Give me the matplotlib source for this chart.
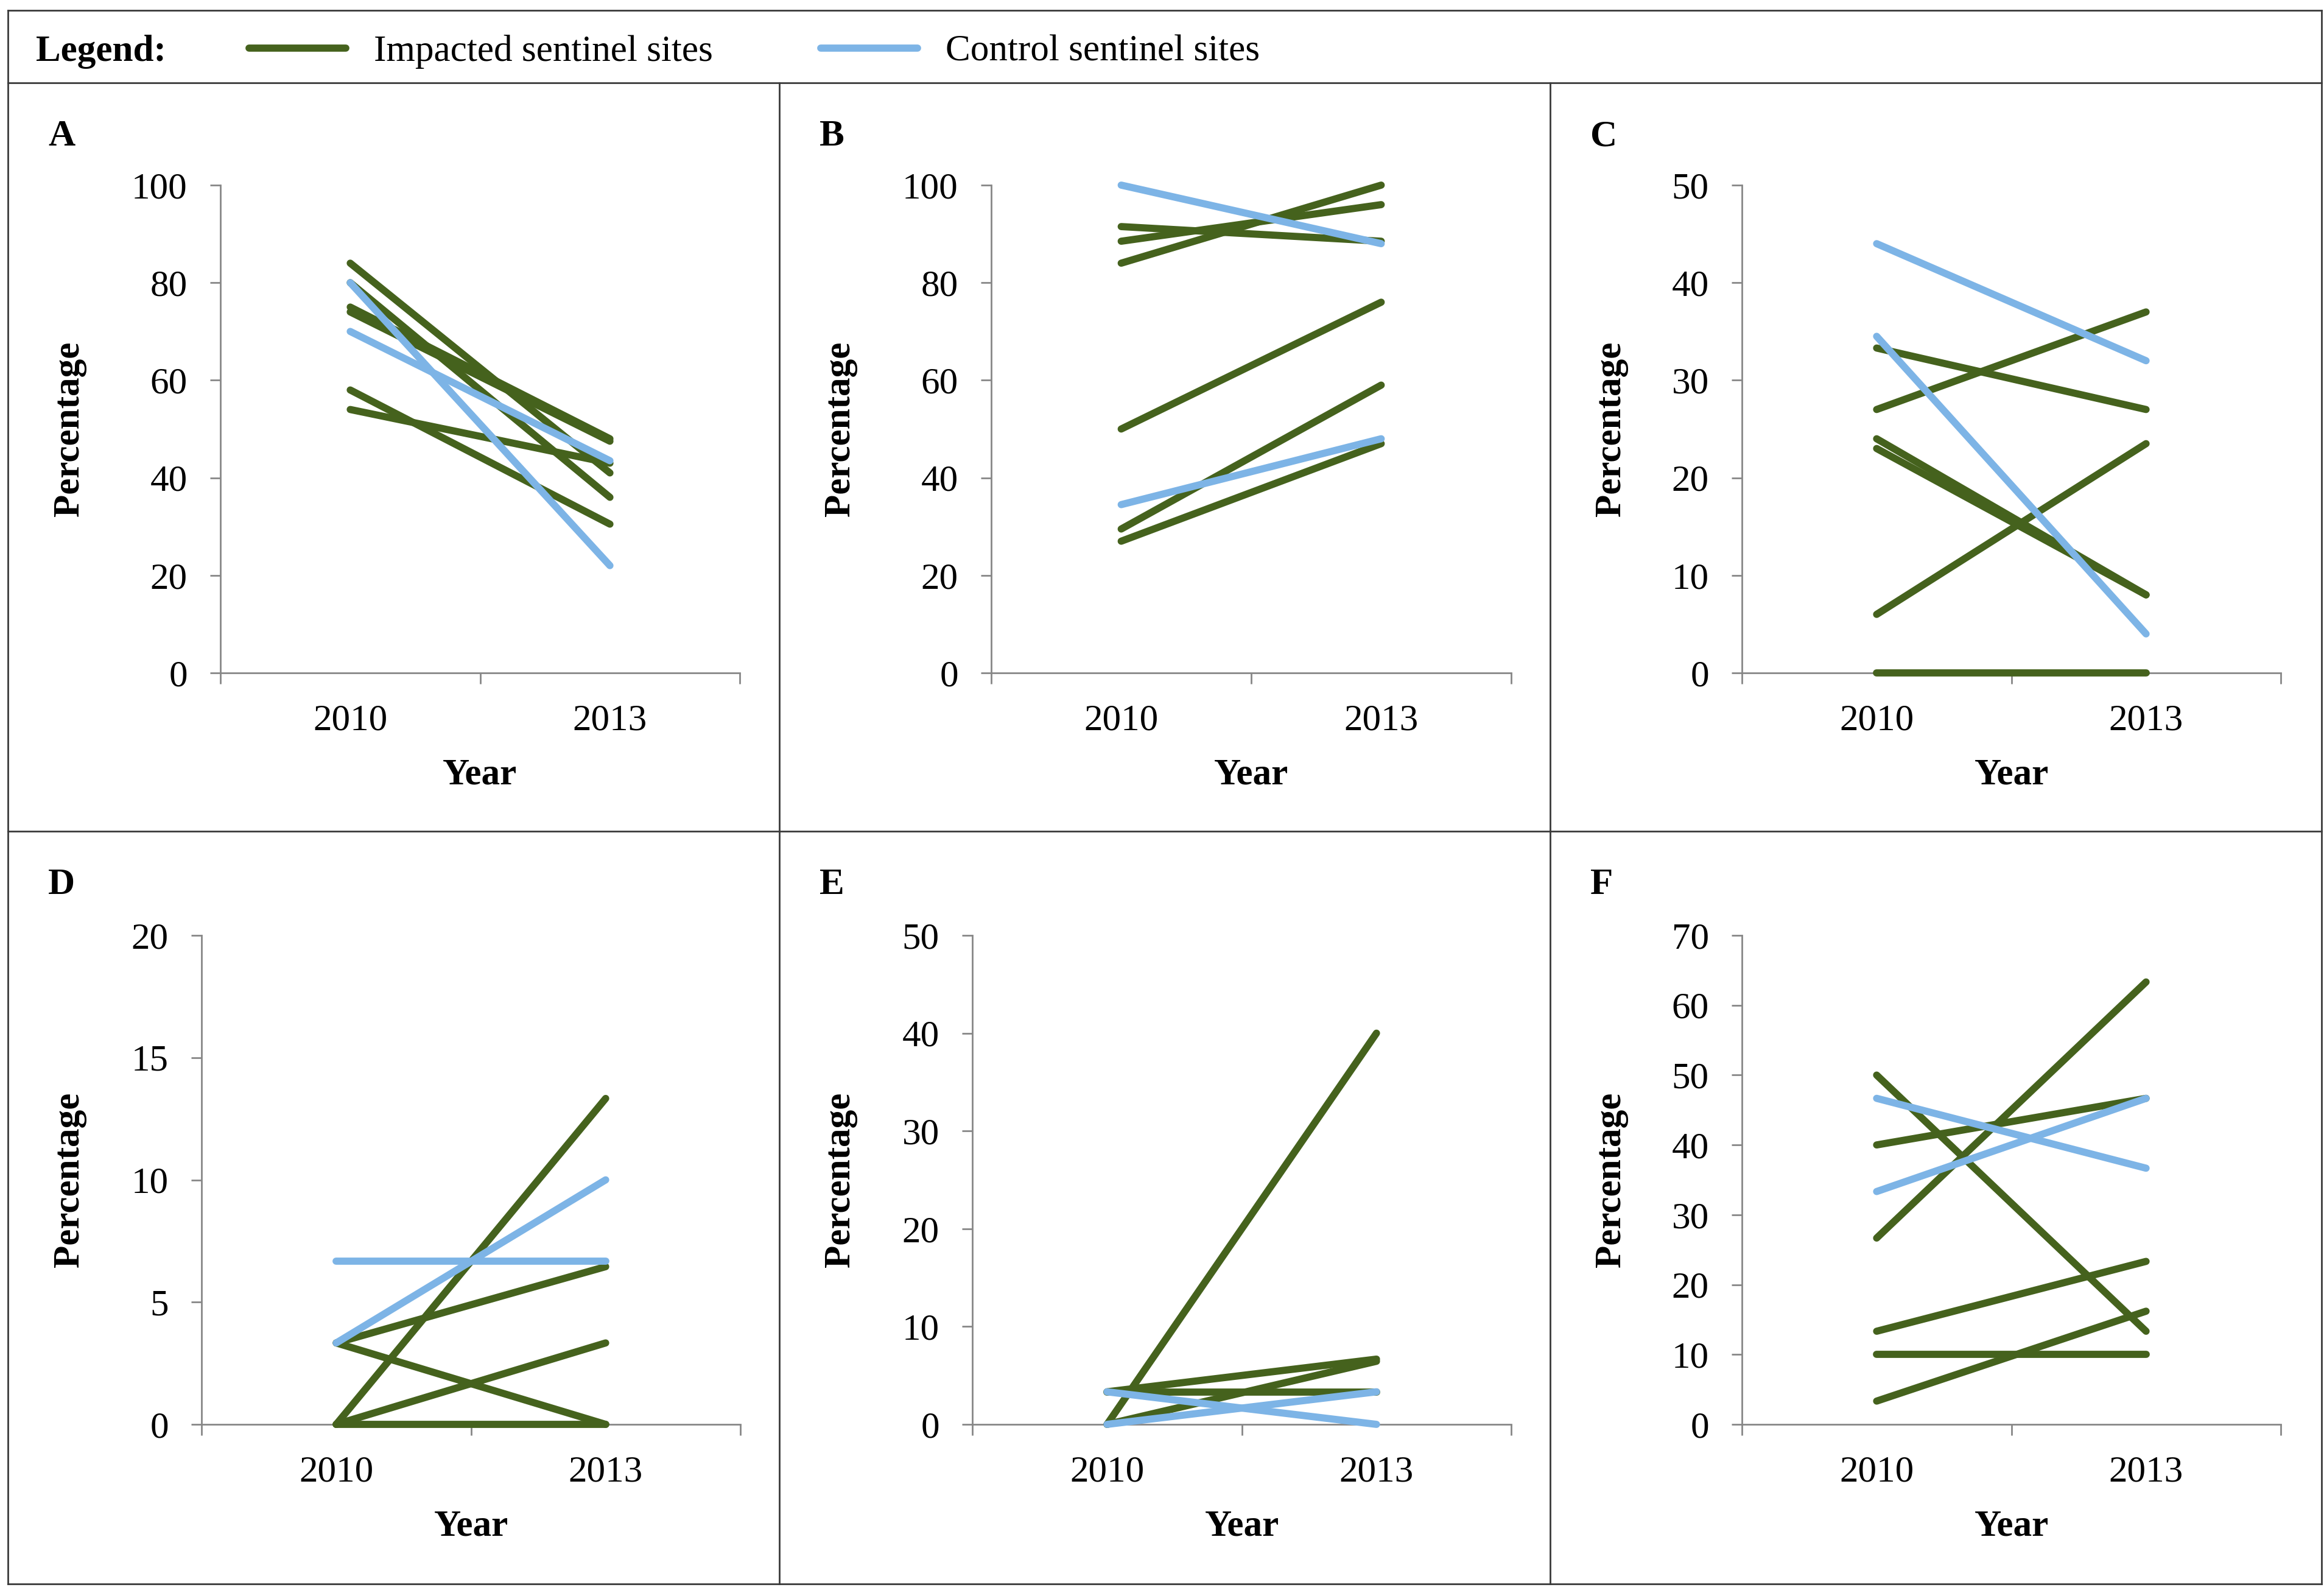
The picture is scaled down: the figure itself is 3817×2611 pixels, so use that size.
import matplotlib.pyplot as plt
from matplotlib.lines import Line2D

plt.rcParams['font.family'] = ['Liberation Serif', 'DejaVu Serif']

years = ['2010', '2013']
letters = ['A', 'B', 'C', 'D', 'E', 'F']

# each pair is (2010 value, 2013 value) for one sentinel site
a_impacted = [[84, 41], [80, 36], [75, 48], [74, 47.5], [58, 30.5], [54, 43]]
a_control = [[80, 22], [70, 43.5]]
b_impacted = [[91.5, 88.5], [88.5, 96], [84, 100], [50, 76], [29.5, 59], [27, 47]]
b_control = [[100, 88], [34.5, 48]]
c_impacted = [[33.3, 27], [27, 37], [24, 8], [23, 8], [6, 23.5], [0, 0]]
c_control = [[44, 32], [34.5, 4]]
d_impacted = [[0, 13.33], [3.33, 6.45], [3.33, 0], [0, 3.33], [0, 0]]
d_control = [[6.67, 6.67], [3.33, 10]]
e_impacted = [[0, 40], [3.33, 6.67], [0, 6.45], [3.33, 3.33]]
e_control = [[3.33, 0], [0, 3.33]]
f_impacted = [[50, 13.33], [40, 46.67], [26.67, 63.33], [13.33, 23.33], [10, 10], [3.33, 16.2]]
f_control = [[46.67, 36.67], [33.33, 46.67]]

y_max = [100, 100, 50, 20, 50, 70]
y_step = [20, 20, 10, 5, 10, 10]

impacted = [a_impacted, b_impacted, c_impacted, d_impacted, e_impacted, f_impacted]
control = [a_control, b_control, c_control, d_control, e_control, f_control]

green = '#45621d'
blue = '#7db4e6'
gray = '#878787'
border = '#3a3a3a'
lw = 8.5

# layout in pixels of the 3817x2611 picture
W, H = 3817, 2611
axes_px = [(362, 1215, 304, 1105), (1628, 2482, 304, 1105), (2861, 3746, 304, 1105),
           (331, 1216, 1536, 2339), (1597, 2482, 1536, 2339), (2861, 3746, 1536, 2339)]
cells_px = [(13, 136), (1280, 136), (2546, 136), (13, 1365), (1280, 1365), (2546, 1365)]
ylabel_px = [114, 1380, 2646, 114, 1380, 2646]


def fx(px):
    return px / W


def fy(py):
    return 1 - py / H


fig = plt.figure(figsize=(W / 100, H / 100), dpi=100)

# table frame
lines = [((13, 3813), (17, 17)), ((13, 3813), (136, 136)), ((13, 3813), (1365, 1365)),
         ((13, 3813), (2601, 2601)), ((13, 13), (17, 2601)), ((3813, 3813), (17, 2601)),
         ((1280, 1280), (136, 2601)), ((2546, 2546), (136, 2601))]
for xs, ys in lines:
    fig.add_artist(Line2D([fx(x) for x in xs], [fy(y) for y in ys],
                          color=border, lw=2, transform=fig.transFigure))

# legend row
fig.text(fx(59), fy(100), 'Legend:', fontsize=44, fontweight='bold', va='baseline')
handles = [Line2D([], [], color=green, lw=lw, solid_capstyle='round'),
           Line2D([], [], color=blue, lw=lw, solid_capstyle='round')]
fig.legend(handles, ['Impacted sentinel sites', 'Control sentinel sites'],
           loc='center left', bbox_to_anchor=(fx(409), fy(85)), ncol=2,
           frameon=False, fontsize=44, borderpad=0, borderaxespad=0,
           handlelength=2.6, handletextpad=0.75, columnspacing=2.9)

for i in range(6):
    x0, x1, y0, y1 = axes_px[i]
    ax = fig.add_axes([fx(x0), fy(y1), (x1 - x0) / W, (y1 - y0) / H])
    xs = [0.5, 1.5]
    for vals in impacted[i]:
        ax.plot(xs, vals, color=green, lw=lw, solid_capstyle='round', clip_on=False, zorder=3)
    for vals in control[i]:
        ax.plot(xs, vals, color=blue, lw=lw, solid_capstyle='round', clip_on=False, zorder=4)

    ax.set_xlim(0, 2)
    ax.set_ylim(0, y_max[i])
    ax.set_xticks([0, 1, 2])
    ax.set_xticklabels([])
    ax.set_xticks(xs, minor=True)
    ax.set_xticklabels(years, minor=True)
    ax.set_yticks(range(0, y_max[i] + 1, y_step[i]))
    ax.tick_params(axis='x', which='major', length=13, width=2, color=gray)
    ax.tick_params(axis='x', which='minor', length=0, pad=37, labelsize=44)
    ax.tick_params(axis='y', length=12, width=2, color=gray, pad=27, labelsize=44)
    for side in ['top', 'right']:
        ax.spines[side].set_visible(False)
    for side in ['left', 'bottom']:
        ax.spines[side].set_color(gray)
        ax.spines[side].set_linewidth(2)

    ax.set_xlabel('Year', fontsize=44, fontweight='bold')
    ax.xaxis.set_label_coords(0.5, -(1245 - 1105) / (y1 - y0))
    ax.set_ylabel('Percentage', fontsize=44, fontweight='bold')
    ax.yaxis.label.set_va('center')
    ax.yaxis.set_label_coords((ylabel_px[i] - x0) / (x1 - x0), 0.5)

    cx, cy = cells_px[i]
    fig.text(fx(cx + 66), fy(cy + 88), letters[i], fontsize=44, fontweight='bold',
             va='center', ha='left')

fig.savefig('out.png', dpi=100, facecolor='white')
